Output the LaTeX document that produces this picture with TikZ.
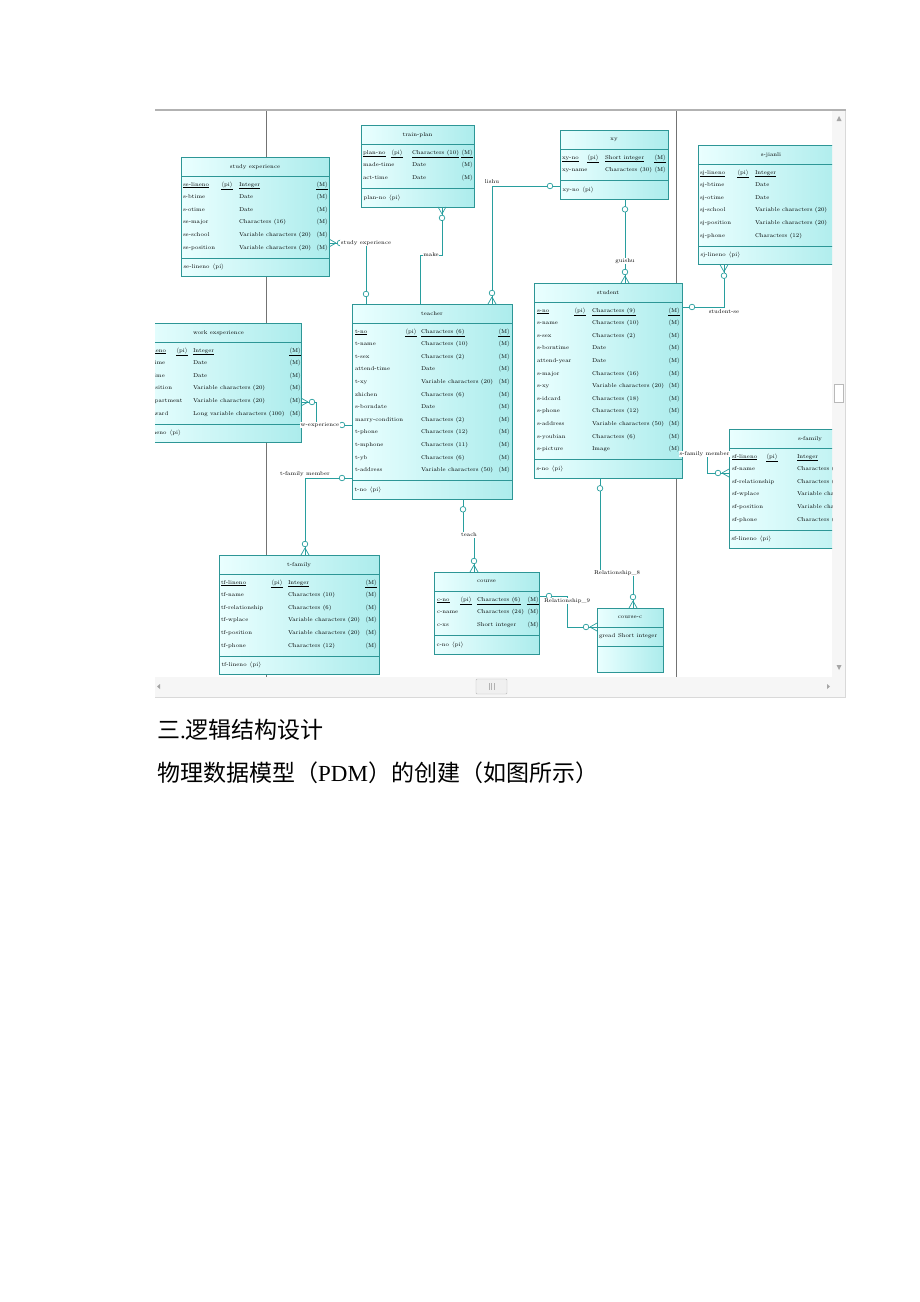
\documentclass[tikz,border=0pt]{standalone}
\usepackage{fontspec}
\usepackage{array}
\usetikzlibrary{shapes.multipart,decorations.markings,positioning}
\newfontfamily\cjk{Noto Sans CJK SC}
\newfontfamily\tnr{Liberation Serif}
\definecolor{entline}{RGB}{45,150,150}
\definecolor{entlight}{RGB}{234,255,255}
\definecolor{entdark}{RGB}{172,236,236}
\definecolor{relline}{RGB}{40,158,158}
\setlength{\tabcolsep}{0pt}
\newcommand{\enttitle}[2]{\parbox[c][18.5pt][c]{#1}{\centering #2}}
\newcommand{\entattr}[3]{\parbox[t][#2][t]{#1}{\vspace{0.6pt}#3}}
\newcommand{\entkey}[2]{\parbox[c][18pt][c]{#1}{\hspace{2.5pt}#2}}
\newcommand{\pik}{$\langle$pi$\rangle$}
\newcommand{\mnd}{$\langle$M$\rangle$}

\begin{document}
\begin{tikzpicture}[x=1pt, y=-1pt,
    % entity tables
    entity/.style = {
        rectangle split, rectangle split parts=3,
        draw=entline, line width=0.8pt,
        left color=entlight, right color=entdark,
        inner xsep=0pt, inner ysep=0pt, outer sep=0pt,
        anchor=north west,
        font=\fontsize{5.6}{12.6}\selectfont},
    % relationships
    rel/.style = {draw=relline, line width=0.8pt},
    lbl/.style = {font=\fontsize{5.6}{7}\selectfont, fill=white, inner sep=0.6pt},
    crow start/.style = {postaction={decorate, decoration={markings,
        mark=at position 0 with {
            \draw[relline, line width=0.7pt] (7pt,0pt) -- (0pt,4pt) (7pt,0pt) -- (0pt,-4pt);
            \draw[relline, line width=0.7pt, fill=white] (11pt,0pt) circle (2.8pt);}}}},
    crow end/.style = {postaction={decorate, decoration={markings,
        mark=at position 1 with {
            \draw[relline, line width=0.7pt] (-7pt,0pt) -- (0pt,4pt) (-7pt,0pt) -- (0pt,-4pt);
            \draw[relline, line width=0.7pt, fill=white] (-11pt,0pt) circle (2.8pt);}}}},
    ring start/.style = {postaction={decorate, decoration={markings,
        mark=at position 0 with {
            \draw[relline, line width=0.7pt, fill=white] (10pt,0pt) circle (2.8pt);}}}},
    ring end/.style = {postaction={decorate, decoration={markings,
        mark=at position 1 with {
            \draw[relline, line width=0.7pt, fill=white] (-10pt,0pt) circle (2.8pt);}}}},
    pageline/.style = {black!55, line width=0.6pt}]

\fill[white] (0,0) rectangle (920,1302);
\useasboundingbox (0,0) rectangle (920,1302);

% window frame and scroll bars
\fill[gray!7] (155,677) rectangle (845,697);
\fill[gray!7] (832,111) rectangle (845,677);
\draw[gray!60, line width=2pt] (155,110) -- (846,110);
\draw[gray!30] (155,697.5) -- (846,697.5);
\draw[gray!30] (845.5,111) -- (845.5,697);
\draw[gray!55, fill=gray!12, rounded corners=1pt] (476,679) rectangle (507,694);
\draw[gray!60] (489,683) -- (489,690) (491.5,683) -- (491.5,690) (494,683) -- (494,690);
\draw[gray!55, fill=white] (834,384) rectangle (843,402);
\fill[gray!70] (836.5,121) -- (841.5,121) -- (839,116) -- cycle;
\fill[gray!70] (836.5,665) -- (841.5,665) -- (839,670) -- cycle;
\fill[gray!70] (160,684) -- (160,689) -- (157,686.5) -- cycle;
\fill[gray!70] (827,684) -- (827,689) -- (830,686.5) -- cycle;

\begin{scope}
\clip (155,111) rectangle (832,677);
\draw[pageline] (266,111) -- (266,677) (676,111) -- (676,677);

% tables
\node[entity] (study) at (181,157) {\enttitle{148pt}{study experience}
  \nodepart{two}\entattr{148pt}{80.8pt}{\begin{tabular}{@{\hspace{2pt}}w{l}{38pt}w{l}{18pt}w{l}{77pt}l@{}}
    \underline{se-lineno} & \underline{\pik} & \underline{Integer} & \underline{\mnd}\\
    s-btime && Date & \mnd\\
    s-otime && Date & \mnd\\
    se-major && Characters (16) & \mnd\\
    se-school && Variable characters (20) & \mnd\\
    se-position && Variable characters (20) & \mnd
  \end{tabular}}
  \nodepart{three}\entkey{148pt}{se-lineno\enspace\pik}};

\node[entity] (plan) at (361,125) {\enttitle{113pt}{train-plan}
  \nodepart{two}\entattr{113pt}{43pt}{\begin{tabular}{@{\hspace{2pt}}w{l}{28pt}w{l}{21pt}w{l}{49pt}l@{}}
    \underline{plan-no} & \underline{\pik} & \underline{Characters (10)} & \underline{\mnd}\\
    made-time && Date & \mnd\\
    act-time && Date & \mnd
  \end{tabular}}
  \nodepart{three}\entkey{113pt}{plan-no\enspace\pik}};

\node[entity] (xy) at (560,130) {\enttitle{108pt}{xy}
  \nodepart{two}\entattr{108pt}{30.4pt}{\begin{tabular}{@{\hspace{2pt}}w{l}{25pt}w{l}{18pt}w{l}{49pt}l@{}}
    \underline{xy-no} & \underline{\pik} & \underline{Short integer} & \underline{\mnd}\\
    xy-name && Characters (30) & \mnd
  \end{tabular}}
  \nodepart{three}\entkey{108pt}{xy-no\enspace\pik}};

\node[entity] (sjianli) at (698,145) {\enttitle{146pt}{s-jianli}
  \nodepart{two}\entattr{146pt}{80.8pt}{\begin{tabular}{@{\hspace{2pt}}w{l}{37pt}w{l}{18pt}w{l}{79pt}l@{}}
    \underline{sj-lineno} & \underline{\pik} & \underline{Integer} & \underline{\mnd}\\
    sj-btime && Date & \mnd\\
    sj-otime && Date & \mnd\\
    sj-school && Variable characters (20) & \mnd\\
    sj-position && Variable characters (20) & \mnd\\
    sj-phone && Characters (12) & \mnd
  \end{tabular}}
  \nodepart{three}\entkey{146pt}{sj-lineno\enspace\pik}};

\node[entity] (work) at (136,323) {\enttitle{165pt}{work exsperience}
  \nodepart{two}\entattr{165pt}{80.8pt}{\begin{tabular}{@{\hspace{2pt}}w{l}{38pt}w{l}{17pt}w{l}{96pt}l@{}}
    \underline{we-lineno} & \underline{\pik} & \underline{Integer} & \underline{\mnd}\\
    we-btime && Date & \mnd\\
    we-otime && Date & \mnd\\
    we-position && Variable characters (20) & \mnd\\
    we-department && Variable characters (20) & \mnd\\
    we-reward && Long variable characters (100) & \mnd
  \end{tabular}}
  \nodepart{three}\entkey{165pt}{we-lineno\enspace\pik}};

\node[entity] (teacher) at (352,304) {\enttitle{160pt}{teacher}
  \nodepart{two}\entattr{160pt}{156.4pt}{\begin{tabular}{@{\hspace{3pt}}w{l}{50pt}w{l}{16pt}w{l}{77pt}l@{}}
    \underline{t-no} & \underline{\pik} & \underline{Characters (6)} & \underline{\mnd}\\
    t-name && Characters (10) & \mnd\\
    t-sex && Characters (2) & \mnd\\
    attend-time && Date & \mnd\\
    t-xy && Variable characters (20) & \mnd\\
    zhichen && Characters (6) & \mnd\\
    s-borndate && Date & \mnd\\
    marry-condition && Characters (2) & \mnd\\
    t-phone && Characters (12) & \mnd\\
    t-mphone && Characters (11) & \mnd\\
    t-yb && Characters (6) & \mnd\\
    t-address && Variable characters (50) & \mnd
  \end{tabular}}
  \nodepart{three}\entkey{160pt}{t-no\enspace\pik}};

\node[entity] (student) at (534,283) {\enttitle{148pt}{student}
  \nodepart{two}\entattr{148pt}{156.4pt}{\begin{tabular}{@{\hspace{3pt}}w{l}{37pt}w{l}{18pt}w{l}{76pt}l@{}}
    \underline{s-no} & \underline{\pik} & \underline{Characters (9)} & \underline{\mnd}\\
    s-name && Characters (10) & \mnd\\
    s-sex && Characters (2) & \mnd\\
    s-borntime && Date & \mnd\\
    attend-year && Date & \mnd\\
    s-major && Characters (16) & \mnd\\
    s-xy && Variable characters (20) & \mnd\\
    s-idcard && Characters (18) & \mnd\\
    s-phone && Characters (12) & \mnd\\
    s-address && Variable characters (50) & \mnd\\
    s-youbian && Characters (6) & \mnd\\
    s-picture && Image & \mnd
  \end{tabular}}
  \nodepart{three}\entkey{148pt}{s-no\enspace\pik}};

\node[entity] (sfamily) at (729,429) {\enttitle{162pt}{s-family}
  \nodepart{two}\entattr{162pt}{80.8pt}{\begin{tabular}{@{\hspace{3pt}}w{l}{34pt}w{l}{31pt}w{l}{77pt}l@{}}
    \underline{sf-lineno} & \underline{\pik} & \underline{Integer} & \underline{\mnd}\\
    sf-name && Characters (10) & \mnd\\
    sf-relationship && Characters (6) & \mnd\\
    sf-wplace && Variable characters (20) & \mnd\\
    sf-position && Variable characters (20) & \mnd\\
    sf-phone && Characters (12) & \mnd
  \end{tabular}}
  \nodepart{three}\entkey{162pt}{sf-lineno\enspace\pik}};

\node[entity] (tfamily) at (219,555) {\enttitle{160pt}{t-family}
  \nodepart{two}\entattr{160pt}{80.8pt}{\begin{tabular}{@{\hspace{2pt}}w{l}{50pt}w{l}{17pt}w{l}{77pt}l@{}}
    \underline{tf-lineno} & \underline{\pik} & \underline{Integer} & \underline{\mnd}\\
    tf-name && Characters (10) & \mnd\\
    tf-relationship && Characters (6) & \mnd\\
    tf-wplace && Variable characters (20) & \mnd\\
    tf-position && Variable characters (20) & \mnd\\
    tf-phone && Characters (12) & \mnd
  \end{tabular}}
  \nodepart{three}\entkey{160pt}{tf-lineno\enspace\pik}};

\node[entity] (course) at (434,572) {\enttitle{105pt}{course}
  \nodepart{two}\entattr{105pt}{43pt}{\begin{tabular}{@{\hspace{3pt}}w{l}{23pt}w{l}{17pt}w{l}{50pt}l@{}}
    \underline{c-no} & \underline{\pik} & \underline{Characters (6)} & \underline{\mnd}\\
    c-name && Characters (24) & \mnd\\
    c-xs && Short integer & \mnd
  \end{tabular}}
  \nodepart{three}\entkey{105pt}{c-no\enspace\pik}};

\node[entity] (coursec) at (597,608) {\enttitle{66pt}{course-c}
  \nodepart{two}\entattr{66pt}{17.8pt}{\begin{tabular}{@{\hspace{2pt}}w{l}{19pt}l@{}}
    gread & Short integer
  \end{tabular}}
  \nodepart{three}\parbox[c][26pt][c]{66pt}{}};

% relationships
\draw[rel, crow start, ring end] (study.east |- 0,243) -| node[lbl]{study experience} (teacher.north -| 366,0);
\draw[rel, crow start] (plan.south -| 442,0) |- (431,255) node[lbl]{make} -| (teacher.north -| 420,0);
\draw[rel, ring start, crow end] (xy.west |- 0,186) -| node[lbl, fill=none, above=1pt]{lishu} (teacher.north -| 492,0);
\draw[rel, ring start, crow end] (xy.south -| 625,0) -- node[lbl, pos=0.74]{guishu} (student.north -| 625,0);
\draw[rel, crow start, ring end] (sjianli.south -| 724,0) |- node[lbl, fill=none, below=2pt]{student-se} (student.east |- 0,307);
\draw[rel, crow start, ring end] (work.east |- 0,402) -| (316,425) node[lbl, xshift=4pt]{w-experience} -- (teacher.west |- 0,425);
\draw[rel, crow start, ring end] (tfamily.north -| 305,0) |- node[lbl, fill=none, above=0.5pt]{t-family member} (teacher.west |- 0,478);
\draw[rel, ring start, crow end] (teacher.south -| 463,0) |- (469,535) node[lbl]{teach} -| (course.north -| 474,0);
\draw[rel, ring start, crow end] (student.south -| 600,0) |- (617,573) node[lbl]{Relationship\_8} -| (coursec.north -| 633,0);
\draw[rel, ring start, crow end] (course.east |- 0,596) -| node[lbl, yshift=-5pt]{Relationship\_9} (567,627) -- (coursec.west |- 0,627);
\draw[rel, crow end] (student.east |- 0,452) -| node[lbl, yshift=-2pt, xshift=-2.5pt]{s-family member} (707,473) -- (sfamily.west |- 0,473);
\end{scope}

% caption lines
\node[anchor=base west, inner sep=0pt, font=\fontsize{23}{27}\selectfont] (sec) at (157,738.5)
    {{\cjk 三}{\tnr .}{\cjk 逻辑结构设计}};
\node[anchor=base west, inner sep=0pt, font=\fontsize{23}{27}\selectfont] (pdm) at (157,781.5)
    {{\cjk 物理数据模型（}{\tnr PDM}{\cjk ）的创建（如图所示）}};
\end{tikzpicture}
\end{document}
